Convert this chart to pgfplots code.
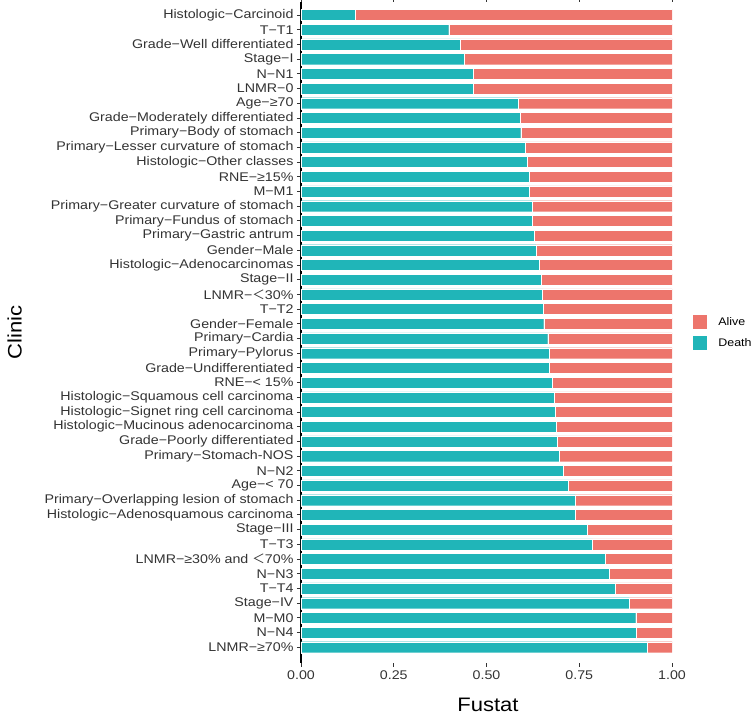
\documentclass[border=0pt]{standalone}
\usepackage{pgfplots}
\pgfplotsset{compat=1.18}
\usepackage{pgfplotstable}
\usepackage{fontspec}
\setmainfont{Liberation Sans}[FakeStretch=1.13]
\newfontfamily\cjk{Noto Sans CJK SC}
\definecolor{deathc}{HTML}{20B5B8}
\definecolor{alivec}{HTML}{ED756C}
\definecolor{tickc}{HTML}{333333}
\pgfplotstableread{
idx death alive
1 0.147 0.853
2 0.398 0.602
3 0.428 0.572
4 0.439 0.561
5 0.464 0.536
6 0.465 0.535
7 0.585 0.415
8 0.590 0.410
9 0.592 0.408
10 0.605 0.395
11 0.609 0.391
12 0.615 0.385
13 0.616 0.384
14 0.622 0.378
15 0.624 0.376
16 0.629 0.371
17 0.633 0.367
18 0.641 0.359
19 0.648 0.352
20 0.650 0.350
21 0.653 0.347
22 0.654 0.346
23 0.665 0.335
24 0.668 0.332
25 0.669 0.331
26 0.678 0.322
27 0.682 0.318
28 0.686 0.314
29 0.687 0.313
30 0.690 0.310
31 0.695 0.305
32 0.707 0.293
33 0.721 0.279
34 0.738 0.262
35 0.740 0.260
36 0.772 0.228
37 0.785 0.215
38 0.820 0.180
39 0.830 0.170
40 0.846 0.154
41 0.885 0.115
42 0.902 0.098
43 0.904 0.096
44 0.932 0.068
}\data
\begin{document}
\begin{tikzpicture}
\useasboundingbox (-301pt,-53.3pt) rectangle (450pt,662.7pt);
\begin{axis}[
  at={(0pt,0pt)}, anchor=south west,
  scale only axis, width=371pt, height=660.7pt,
  xbar stacked, bar width=0.75,
  xmin=0, xmax=1, ymin=0.116, ymax=45.054,
  y dir=reverse,
  axis line style={draw=none},
  axis y line*=left,
  y axis line style={draw=black, line width=1.1pt},
  ytick={1,...,44},
  yticklabels={
    Histologic−Carcinoid, T−T1, Grade−Well differentiated, Stage−I, N−N1, LNMR−0,
    Age−≥70, Grade−Moderately differentiated, Primary−Body of stomach,
    Primary−Lesser curvature of stomach, Histologic−Other classes, RNE−≥15\%, M−M1,
    Primary−Greater curvature of stomach, Primary−Fundus of stomach,
    Primary−Gastric antrum, Gender−Male, Histologic−Adenocarcinomas, Stage−II,
    {LNMR−{\cjk ＜}30\%}, T−T2, Gender−Female, Primary−Cardia, Primary−Pylorus,
    Grade−Undifferentiated, RNE−< 15\%, Histologic−Squamous cell carcinoma,
    Histologic−Signet ring cell carcinoma, Histologic−Mucinous adenocarcinoma,
    Grade−Poorly differentiated, Primary−Stomach-NOS, N−N2, Age−< 70,
    Primary−Overlapping lesion of stomach, Histologic−Adenosquamous carcinoma,
    Stage−III, T−T3, {LNMR−≥30\% and {\cjk ＜}70\%}, N−N3, T−T4, Stage−IV, M−M0, N−N4,
    LNMR−≥70\%},
  xtick={0,0.25,0.5,0.75,1},
  xticklabels={0.00,0.25,0.50,0.75,1.00},
  tick align=outside,
  major tick length=4pt,
  tick style={draw=tickc, line width=0.8pt},
  ticklabel style={font=\fontsize{12.6}{14}\selectfont, text=tickc},
  /pgf/number format/assume math mode=true,
  xlabel={Fustat},
  xlabel style={at={(axis description cs:0.504,-0.064)}, anchor=center, font=\fontsize{19.5}{21}\selectfont},
  ylabel={Clinic},
  ylabel style={at={(axis description cs:-0.772,0.5)}, anchor=center, font=\fontsize{19.5}{21}\selectfont},
  reverse legend,
  legend style={at={(axis description cs:1.0566,0.5262)}, anchor=north west, draw=none, fill=none,
    inner sep=0pt, row sep=8pt, font=\fontsize{11}{13}\selectfont,
    cells={anchor=west}, nodes={inner sep=1pt, text=black}},
]
\addplot[fill=deathc, draw=white, line width=0.2pt,
  legend image code/.code={\fill[deathc] (0pt,-6.5pt) rectangle (13pt,6.5pt);}]
  table[x=death, y=idx]{\data};
\addlegendentry{\hspace{11pt}Death}
\addplot[fill=alivec, draw=white, line width=0.2pt,
  legend image code/.code={\fill[alivec] (0pt,-6.5pt) rectangle (13pt,6.5pt);}]
  table[x=alive, y=idx]{\data};
\addlegendentry{\hspace{11pt}Alive}
\end{axis}
\end{tikzpicture}
\end{document}
